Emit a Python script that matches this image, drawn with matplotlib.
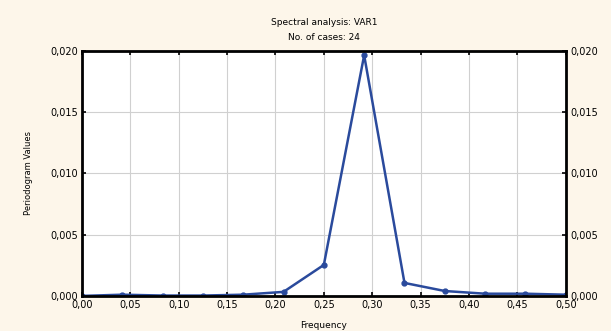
import matplotlib
matplotlib.use('Agg')
import matplotlib.pyplot as plt
from matplotlib.ticker import FuncFormatter

# periodogram for 24 cases, frequencies k/24
freq = [0.0, 1/24, 2/24, 3/24, 4/24, 5/24, 6/24, 7/24, 8/24, 9/24, 10/24, 11/24, 12/24]
pvals = [0.00000, 0.00010, 0.00003, 0.00003, 0.00010, 0.00033, 0.00253,
         0.01965, 0.00106, 0.00040, 0.00018, 0.00018, 0.00010]

xticks = [0.0, 0.05, 0.10, 0.15, 0.20, 0.25, 0.30, 0.35, 0.40, 0.45, 0.50]
yticks = [0.0, 0.005, 0.010, 0.015, 0.020]

bg = '#fdf6ea'
line_col = '#2a4a9c'

fig = plt.figure(figsize=(6.11, 3.31), dpi=100, facecolor=bg)
ax = fig.add_axes([0.134, 0.106, 0.792, 0.740])
ax.set_facecolor('white')

ax.plot(freq, pvals, color=line_col, lw=1.8, marker='o', ms=3.5, mec=line_col, mfc=line_col)

ax.set_xlim(0, 0.5)
ax.set_ylim(0, 0.02)
ax.set_xticks(xticks)
ax.set_yticks(yticks)
comma3 = FuncFormatter(lambda v, p: f'{v:.3f}'.replace('.', ','))
comma2 = FuncFormatter(lambda v, p: f'{v:.2f}'.replace('.', ','))
ax.xaxis.set_major_formatter(comma2)
ax.yaxis.set_major_formatter(comma3)
ax.grid(True, color='#d0d0d0', lw=0.8)
ax.tick_params(direction='in', length=3, width=1.2, labelsize=7, colors='black',
               top=True, right=True, labelright=True, pad=3)
for s in ax.spines.values():
    s.set_linewidth(2)

ax.set_xlabel('Frequency', fontsize=6.5, labelpad=8)
ax.set_ylabel('Periodogram Values', fontsize=6, labelpad=12)
fig.text(0.53, 0.925, 'Spectral analysis: VAR1', ha='center', fontsize=6.5)
fig.text(0.53, 0.88, 'No. of cases: 24', ha='center', fontsize=6.5)

fig.savefig('out.png', dpi=100, facecolor=bg)
